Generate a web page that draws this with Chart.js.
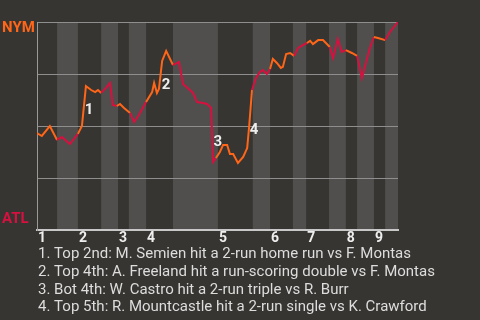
<!DOCTYPE html>
<html>
<head>
<meta charset="utf-8">
<script src="https://cdn.jsdelivr.net/npm/chart.js@4/dist/chart.umd.min.js"></script>
<style>
  html, body { margin: 0; padding: 0; background: #373532; }
  canvas { display: block; }
</style>
</head>
<body>
<canvas id="c" width="480" height="320"></canvas>
<script>
// ---- data ----
const teamTop = 'NYM';
const teamBottom = 'ATL';
const innings = ['1','2','3','4','5','6','7','8','9'];
// half-inning boundaries in play units (top 1, bot 1, top 2, ...)
const halfBounds = [0,5,10.2,16,20.2,22.9,27.2,33.9,45.1,53.8,58.1,63.8,67.1,72.8,77,79.8,84,86.8,90];
// win probability track (play units, NYM win %)
const playX = [0,1.2,3.2,5.0,6.2,8.2,10.2,11.2,12.2,13.5,14.5,15.2,16.0,17.2,18.2,18.9,19.9,20.7,21.7,23.2,24.2,25.4,27.2,28.7,29.2,29.9,30.4,31.2,32.2,33.9,35.4,36.4,38.1,38.9,39.9,41.4,42.4,43.4,43.9,44.6,45.6,46.4,47.4,48.1,48.9,50.1,51.4,52.4,52.9,53.6,54.6,55.6,56.3,57.3,58.1,58.8,59.8,60.8,61.3,62.1,63.1,64.1,65.1,66.3,67.3,68.1,68.8,70.1,71.3,73.0,73.8,75.0,76.0,77.0,78.5,79.8,81.0,81.8,83.0,84.0,85.0,86.8,88.0,90];
const nymWinPct = [46.6,45.2,50.0,43.3,44.7,41.3,46.2,50.0,69.2,67.3,66.3,67.3,65.9,68.3,70.7,60.1,59.6,60.6,58.7,56.3,51.9,55.3,61.5,66.3,70.7,65.9,67.8,81.3,86.1,79.3,80.8,70.2,67.3,65.9,61.5,61.1,60.6,58.7,32.7,34.6,37.5,40.9,40.9,36.5,36.5,32.2,35.1,39.4,50.0,67.3,73.1,76.0,76.9,75.0,77.4,82.2,80.3,77.9,78.4,84.6,85.1,83.7,87.5,88.9,89.9,90.9,89.4,91.3,91.3,88.0,82.7,91.8,85.6,86.5,85.1,83.7,73.1,78.8,87.5,92.8,92.3,91.3,95.2,100];
// key events
const eventNums = ['1','2','3','4'];
const eventX = [13.0,32.2,45.1,54.1];
const eventY = [57.7,69.7,42.3,48.1];
const eventTexts = [
  '1. Top 2nd: M. Semien hit a 2-run home run vs F. Montas',
  '2. Top 4th: A. Freeland hit a run-scoring double vs F. Montas',
  '3. Bot 4th: W. Castro hit a 2-run triple vs R. Burr',
  '4. Top 5th: R. Mountcastle hit a 2-run single vs K. Crawford'
];

// ---- styles ----
const BG = '#373532';
const BAND = '#504f4d';
const ORANGE = '#ff6618';
const RED = '#d8103f';
const FONT = 'Roboto, "Noto Sans", sans-serif';

function halfIndex(x) {
  for (let i = 0; i < halfBounds.length - 1; i++) {
    if (x >= halfBounds[i] && x < halfBounds[i + 1]) return i;
  }
  return halfBounds.length - 2;
}

const points = playX.map((x, i) => ({ x: x, y: nymWinPct[i] }));

const decor = {
  id: 'decor',
  beforeDraw(chart) {
    const { ctx, chartArea: a, scales: { x } } = chart;
    ctx.save();
    ctx.fillStyle = BG;
    ctx.fillRect(0, 0, chart.width, chart.height);
    ctx.fillStyle = BAND;
    for (let i = 1; i < halfBounds.length - 1; i += 2) {
      const x0 = x.getPixelForValue(halfBounds[i]);
      const x1 = x.getPixelForValue(halfBounds[i + 1]);
      ctx.fillRect(x0, a.top, x1 - x0, a.bottom - a.top);
    }
    ctx.restore();
  },
  afterDraw(chart) {
    const { ctx, chartArea: a, scales: { x, y } } = chart;
    ctx.save();
    ctx.textBaseline = 'middle';
    ctx.textAlign = 'left';
    ctx.font = 'bold 15px ' + FONT;
    ctx.fillStyle = ORANGE;
    ctx.fillText(teamTop, 2, y.getPixelForValue(100) + 6);
    ctx.fillStyle = RED;
    ctx.fillText(teamBottom, 2, y.getPixelForValue(0) - 11);

    // inning labels
    ctx.font = 'bold 14px ' + FONT;
    ctx.fillStyle = '#eeeeee';
    ctx.textBaseline = 'alphabetic';
    innings.forEach((lab, i) => {
      ctx.fillText(lab, x.getPixelForValue(halfBounds[i * 2]) + 1, a.bottom + 12);
    });

    // event numbers on chart
    ctx.font = 'bold 15px ' + FONT;
    ctx.textAlign = 'center';
    ctx.textBaseline = 'middle';
    ctx.fillStyle = '#eeeeee';
    eventNums.forEach((lab, i) => {
      ctx.fillText(lab, x.getPixelForValue(eventX[i]), y.getPixelForValue(eventY[i]));
    });

    // event descriptions
    ctx.font = '15px ' + FONT;
    ctx.textAlign = 'left';
    ctx.textBaseline = 'alphabetic';
    ctx.fillStyle = '#dddddd';
    eventTexts.forEach((t, i) => {
      ctx.fillText(t, a.left + 1, a.bottom + 28 + i * 17.8);
    });
    ctx.restore();
  }
};

new Chart(document.getElementById('c'), {
  type: 'line',
  data: {
    datasets: [{
      data: points,
      borderWidth: 2,
      pointRadius: 0,
      tension: 0,
      fill: false,
      borderColor: RED,
      segment: {
        borderColor: c => {
          const mid = (c.p0.parsed.x + c.p1.parsed.x) / 2;
          return halfIndex(mid) % 2 === 0 ? ORANGE : RED;
        }
      }
    }]
  },
  options: {
    responsive: false,
    animation: false,
    events: [],
    layout: { padding: { left: 37, top: 22, right: 82, bottom: 90 } },
    plugins: { legend: { display: false }, tooltip: { enabled: false } },
    scales: {
      x: {
        type: 'linear', min: 0, max: 90,
        ticks: { display: false },
        grid: { display: false, drawTicks: false },
        border: { display: true, color: '#c8c8c8', width: 2 }
      },
      y: {
        min: 0, max: 100,
        ticks: { display: false, stepSize: 25 },
        grid: { color: '#8e8e8e', drawTicks: false, lineWidth: 1 },
        border: { display: true, color: '#9a9a9a', width: 1 }
      }
    }
  },
  plugins: [decor]
});
</script>
</body>
</html>
